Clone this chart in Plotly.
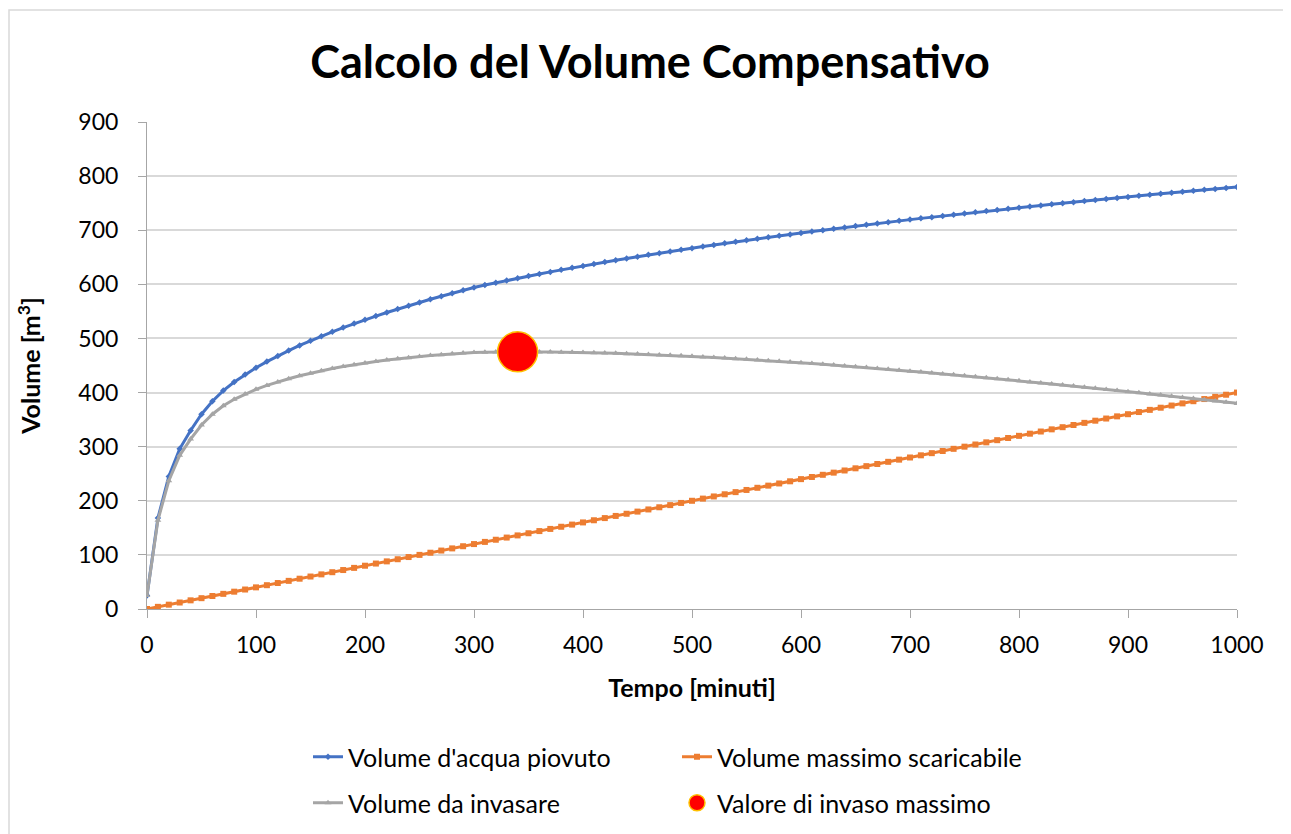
import plotly.graph_objects as go

# Tempo [minuti]
tempo = [0, 10, 20, 30, 40, 50, 60, 70, 80, 90,
         100, 110, 120, 130, 140, 150, 160, 170, 180, 190,
         200, 210, 220, 230, 240, 250, 260, 270, 280, 290,
         300, 310, 320, 330, 340, 350, 360, 370, 380, 390,
         400, 410, 420, 430, 440, 450, 460, 470, 480, 490,
         500, 510, 520, 530, 540, 550, 560, 570, 580, 590,
         600, 610, 620, 630, 640, 650, 660, 670, 680, 690,
         700, 710, 720, 730, 740, 750, 760, 770, 780, 790,
         800, 810, 820, 830, 840, 850, 860, 870, 880, 890,
         900, 910, 920, 930, 940, 950, 960, 970, 980, 990,
         1000]

# Volume d'acqua piovuto [m3]
vol_piovuto = [25, 168, 245, 296, 330, 360, 384, 403.6, 419.5, 433.5,
               446, 457.2, 467.7, 477.6, 487.0, 495.8, 504.2, 512.3, 520.0, 527.4,
               534.5, 541.3, 548.0, 554.3, 560.5, 566.5, 572.4, 578.0, 583.6, 588.9,
               594.2, 598.6, 602.9, 607.1, 611.2, 615.3, 619.2, 623.0, 626.8, 630.5,
               634.1, 637.7, 641.1, 644.6, 647.9, 651.2, 654.5, 657.6, 660.8, 663.9,
               666.9, 669.9, 672.8, 675.7, 678.6, 681.4, 684.2, 686.9, 689.7, 692.3,
               695.0, 697.6, 700.1, 702.7, 705.2, 707.6, 710.1, 712.5, 714.9, 717.3,
               719.6, 721.9, 724.2, 726.5, 728.7, 730.9, 733.1, 735.3, 737.4, 739.5,
               741.6, 743.7, 745.8, 747.8, 749.9, 751.9, 753.9, 755.8, 757.8, 759.7,
               761.6, 763.5, 765.4, 767.3, 769.2, 771.0, 772.8, 774.6, 776.4, 778.2,
               780.0]

# Volume massimo scaricabile [m3]
vol_scaricabile = [0, 4, 8, 12, 16, 20, 24, 28, 32, 36,
                   40, 44, 48, 52, 56, 60, 64, 68, 72, 76,
                   80, 84, 88, 92, 96, 100, 104, 108, 112, 116,
                   120, 124, 128, 132, 136, 140, 144, 148, 152, 156,
                   160, 164, 168, 172, 176, 180, 184, 188, 192, 196,
                   200, 204, 208, 212, 216, 220, 224, 228, 232, 236,
                   240, 244, 248, 252, 256, 260, 264, 268, 272, 276,
                   280, 284, 288, 292, 296, 300, 304, 308, 312, 316,
                   320, 324, 328, 332, 336, 340, 344, 348, 352, 356,
                   360, 364, 368, 372, 376, 380, 384, 388, 392, 396,
                   400]

# Volume da invasare [m3]
vol_invasare = [25, 164, 237, 284, 314, 340, 360, 375.6, 387.5, 397.5,
                406, 413.2, 419.7, 425.6, 431.0, 435.8, 440.2, 444.3, 448.0, 451.4,
                454.5, 457.3, 460.0, 462.3, 464.5, 466.5, 468.4, 470.0, 471.6, 472.9,
                474.2, 474.6, 474.9, 475.1, 475.2, 475.1, 475.0, 474.9, 474.7, 474.5,
                474.1, 473.7, 473.1, 472.6, 471.9, 471.2, 470.5, 469.6, 468.8, 467.9,
                466.9, 465.9, 464.8, 463.7, 462.6, 461.4, 460.2, 458.9, 457.7, 456.3,
                455.0, 453.6, 452.1, 450.7, 449.2, 447.6, 446.1, 444.5, 442.9, 441.3,
                439.6, 437.9, 436.2, 434.5, 432.7, 430.9, 429.1, 427.3, 425.4, 423.5,
                421.6, 419.7, 417.8, 415.8, 413.9, 411.9, 409.9, 407.8, 405.8, 403.7,
                401.6, 399.5, 397.4, 395.3, 393.2, 391.0, 388.8, 386.6, 384.4, 382.2,
                380.0]

# Valore di invaso massimo
t_max = [340]
v_max = [475.2]

x_ticks = [0, 100, 200, 300, 400, 500, 600, 700, 800, 900, 1000]
y_ticks = [0, 100, 200, 300, 400, 500, 600, 700, 800, 900]

FONT = "Lato"

fig = go.Figure()
fig.add_trace(go.Scatter(
    x=tempo, y=vol_piovuto, name="Volume d'acqua piovuto", mode="lines+markers",
    line=dict(color="#4472C4", width=3), marker=dict(symbol="diamond", size=5, color="#4472C4"),
    legend="legend"))
fig.add_trace(go.Scatter(
    x=tempo, y=vol_scaricabile, name="Volume massimo scaricabile", mode="lines+markers",
    line=dict(color="#ED7D31", width=3), marker=dict(symbol="square", size=6, color="#ED7D31"),
    legend="legend"))
fig.add_trace(go.Scatter(
    x=tempo, y=vol_invasare, name="Volume da invasare", mode="lines+markers",
    line=dict(color="#A5A5A5", width=3), marker=dict(symbol="triangle-up", size=6, color="#A5A5A5"),
    legend="legend2"))
fig.add_trace(go.Scatter(
    x=t_max, y=v_max, name="Valore di invaso massimo", mode="markers",
    marker=dict(symbol="circle", size=40, color="#FF0000", line=dict(color="#FFC000", width=1.5)),
    legend="legend2"))

# page body has an 8px margin: figure origin sits at (8, 8) in the window
OFF = 8
W, H = 1283, 826
PL, PR, PT, PB = 147, 1237, 122, 609          # plot area in window pixels
L, T = PL - OFF, PT - OFF
R = W - (PR - OFF)
B = H - (PB - OFF)
pw, ph = W - L - R, H - T - B

def px(x):
    return (x - OFF - L) / pw

def py(y):
    return (H - B - (y - OFF)) / ph

legend_common = dict(
    orientation="h", xanchor="left", yanchor="middle",
    font=dict(family=FONT, size=25, color="#000000"),
    entrywidth=324, entrywidthmode="pixels",
    bgcolor="rgba(0,0,0,0)", itemsizing="trace",
)

fig.update_layout(
    width=W, height=H,
    margin=dict(l=L, r=R, t=T, b=B, autoexpand=False),
    paper_bgcolor="white", plot_bgcolor="white",
    title=dict(text="<b>Calcolo del Volume Compensativo</b>",
               xref="container", x=(650 - OFF) / W, xanchor="center",
               yref="container", y=1 - (62 - OFF) / H, yanchor="middle",
               font=dict(family=FONT, size=45, color="#000000")),
    xaxis=dict(range=[0, 1000], tickvals=x_ticks, showgrid=False, zeroline=False,
               showline=True, linecolor="#A6A6A6", linewidth=1,
               ticks="outside", ticklen=8, tickcolor="#A6A6A6", ticklabelstandoff=7,
               tickfont=dict(family=FONT, size=23, color="#000000"),
               title=dict(text="<b>Tempo [minuti]</b>", standoff=22,
                          font=dict(family=FONT, size=25, color="#000000"))),
    yaxis=dict(range=[0, 900], tickvals=y_ticks, showgrid=True, gridcolor="#D9D9D9", gridwidth=1.5,
               zeroline=False, showline=True, linecolor="#A6A6A6", linewidth=1,
               ticks="outside", ticklen=8, tickcolor="#A6A6A6", ticklabelstandoff=15,
               tickfont=dict(family=FONT, size=23, color="#000000"),
               title=dict(text="<b>Volume [m<sup>3</sup>]</b>", standoff=30,
                          font=dict(family=FONT, size=25, color="#000000"))),
    legend=dict(x=px(308), y=py(757), **legend_common),
    legend2=dict(x=px(308), y=py(803), **legend_common),
    shapes=[dict(type="rect", xref="paper", yref="paper",
                 x0=px(9), x1=px(1289), y0=py(850), y1=py(10),
                 line=dict(color="#D9D9D9", width=1.5), fillcolor="rgba(0,0,0,0)", layer="below")],
)

fig.write_html("out.html")
